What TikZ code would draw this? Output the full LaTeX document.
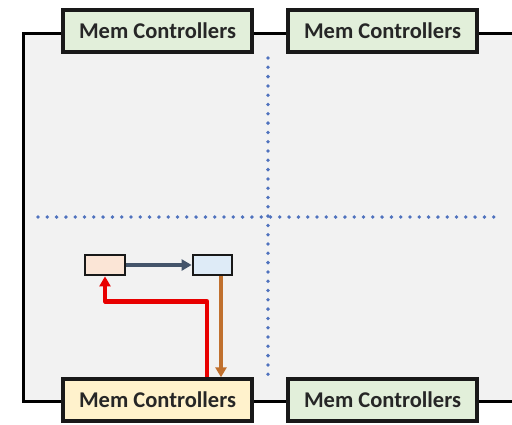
\documentclass[tikz,border=0pt]{standalone}
\usepackage{fontspec}
\setmainfont{Carlito}
\usetikzlibrary{arrows.meta}
\definecolor{panelgray}{HTML}{F2F2F2}
\definecolor{mcgreen}{HTML}{E2EFDA}
\definecolor{mcyellow}{HTML}{FFF2CC}
\definecolor{corepeach}{HTML}{FBE5D6}
\definecolor{coreblue}{HTML}{DEEBF7}
\definecolor{dotblue}{HTML}{4F72BE}
\definecolor{navyarrow}{HTML}{44546A}
\definecolor{brownarrow}{HTML}{C0702E}
\definecolor{redarrow}{HTML}{E80000}
\tikzset{
  memctl/.style={draw=black!90, line width=3.4pt, minimum width=189pt, minimum height=42pt,
    inner sep=0pt, font=\fontsize{22.5}{26}\selectfont\bfseries, text=black!85},
  corebox/.style={draw=black!90, line width=2.8pt, minimum width=40pt, minimum height=20pt, inner sep=0pt},
  divider/.style={dotblue, line width=3.8pt, line cap=round, dash pattern=on 0pt off 9.3pt},
  link/.style={line width=3.6pt, -{Triangle[length=10pt,width=11pt]}}
}
\begin{document}
\begin{tikzpicture}[x=1pt,y=-1pt]
  \useasboundingbox (0,0) rectangle (512,424);
  \clip (0,0) rectangle (512,424);
  % chip outline
  \draw[fill=panelgray, line width=3pt] (23,33) rectangle (540,401);
  % quadrant dividers
  \draw[divider] (268,58) -- (268,376);
  \draw[divider] (38,217) -- (497,217);
  % memory controllers
  \node[memctl, fill=mcgreen]  (m1) at (157.5,31)  {Mem Controllers};
  \node[memctl, fill=mcgreen]  (m2) at (382.5,31)  {Mem Controllers};
  \node[memctl, fill=mcyellow] (m3) at (157.5,400) {Mem Controllers};
  \node[memctl, fill=mcgreen]  (m4) at (382.5,400) {Mem Controllers};
  % cores
  \node[corebox, fill=corepeach] (a) at (105,265) {};
  \node[corebox, fill=coreblue, minimum width=39pt] (b) at (212.5,265) {};
  % traffic
  \draw[link, navyarrow] (a.east) -- (b.west);
  \draw[link, brownarrow] ([xshift=8.5pt]b.south) -- ([xshift=8.5pt]b.south |- m3.north);
  \draw[link, redarrow, line width=4.4pt, line join=round] ([xshift=49.5pt]m3.north) -- ++(0,-76) -| (a.south);
\end{tikzpicture}
\end{document}
